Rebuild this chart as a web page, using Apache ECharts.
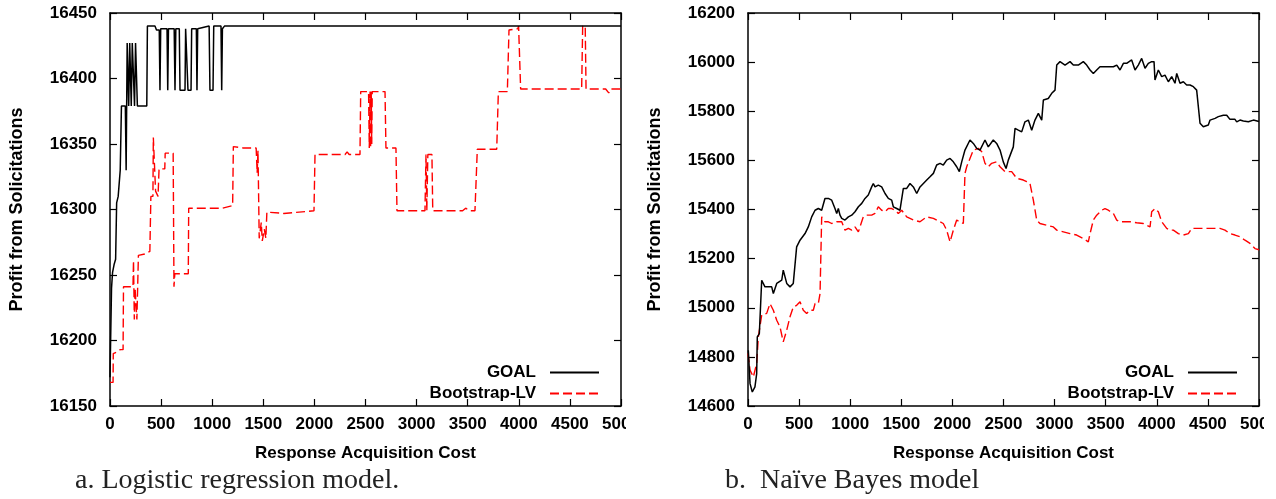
<!DOCTYPE html>
<html>
<head>
<meta charset="utf-8">
<script src="https://cdn.jsdelivr.net/npm/echarts@6/dist/echarts.min.js"></script>
<style>
  body { margin: 0; background: #fff; }
  #chartA { position: absolute; left: 0; top: 0; width: 626px; height: 499px; }
  #chartB { position: absolute; left: 640px; top: 0; width: 624px; height: 499px; }
</style>
</head>
<body>
<div id="chartA"></div>
<div id="chartB"></div>
<script>
// a. logistic regression: [cost, profit]
const goalA = [
  [0, 16172], [15, 16240], [25, 16252], [40, 16258], [55, 16262], [65, 16305], [80, 16310],
  [100, 16330], [112, 16379], [150, 16379], [158, 16330], [168, 16427], [180, 16427],
  [183, 16379], [190, 16379], [193, 16427], [205, 16427], [208, 16379], [215, 16379],
  [218, 16427], [235, 16427], [240, 16379], [245, 16379], [250, 16427], [262, 16427],
  [268, 16379], [360, 16379], [366, 16440], [440, 16440], [455, 16437], [482, 16437],
  [489, 16391], [496, 16438], [558, 16438], [565, 16391], [572, 16438], [628, 16438],
  [636, 16391], [644, 16438], [678, 16438], [685, 16391], [734, 16391], [740, 16438],
  [756, 16438], [763, 16391], [793, 16391], [799, 16438], [845, 16438], [851, 16391],
  [858, 16438], [970, 16440], [978, 16391], [1008, 16391], [1015, 16440], [1086, 16440],
  [1093, 16391], [1100, 16438], [1120, 16440], [5000, 16440]
]
const bootA = [
  [0, 16168], [30, 16168], [32, 16190], [60, 16191], [100, 16193], [128, 16193], [132, 16241],
  [225, 16241], [230, 16261], [238, 16216], [245, 16240], [258, 16240], [263, 16216],
  [272, 16216], [278, 16265], [340, 16266], [390, 16268], [400, 16310], [420, 16310],
  [424, 16355], [438, 16355], [446, 16314], [470, 16310], [480, 16331], [536, 16331],
  [540, 16343], [618, 16343], [626, 16241], [634, 16251], [766, 16251], [770, 16301],
  [1100, 16301], [1200, 16303], [1207, 16348], [1300, 16347], [1430, 16347], [1440, 16328],
  [1448, 16345], [1460, 16278], [1480, 16290], [1490, 16276], [1510, 16285], [1525, 16278],
  [1535, 16298], [1700, 16297], [1996, 16299], [2006, 16342], [2300, 16342], [2320, 16344],
  [2340, 16342], [2446, 16342], [2453, 16390], [2530, 16390], [2537, 16347], [2545, 16390],
  [2550, 16347], [2556, 16390], [2561, 16350], [2566, 16390], [2691, 16390], [2700, 16347],
  [2798, 16347], [2808, 16299], [3082, 16299], [3092, 16342], [3100, 16299], [3110, 16342],
  [3150, 16342], [3158, 16299], [3450, 16299], [3480, 16301], [3520, 16299], [3571, 16299],
  [3594, 16346], [3784, 16346], [3800, 16390], [3888, 16390], [3904, 16437], [3990, 16438],
  [3998, 16440], [4018, 16392], [4615, 16392], [4625, 16440], [4650, 16440], [4658, 16392],
  [4850, 16392], [4880, 16389], [4900, 16392], [5000, 16392]
]

// b. naive bayes
const goalB = [
  [3, 14827], [20, 14691], [42, 14657], [68, 14678], [85, 14732], [91, 14881], [111, 14895],
  [134, 15112], [166, 15085], [232, 15085], [248, 15058], [281, 15099], [330, 15112],
  [345, 15153], [379, 15099], [411, 15085], [443, 15099], [476, 15248], [509, 15275],
  [558, 15302], [590, 15329], [623, 15370], [656, 15397], [688, 15404], [721, 15397],
  [753, 15445], [786, 15445], [819, 15438], [851, 15404], [868, 15384], [884, 15404],
  [900, 15377], [917, 15364], [949, 15357], [982, 15370], [1015, 15377], [1047, 15391],
  [1080, 15411], [1113, 15425], [1145, 15445], [1177, 15459], [1210, 15492], [1226, 15506],
  [1243, 15492], [1275, 15499], [1308, 15492], [1341, 15465], [1373, 15445], [1406, 15438],
  [1422, 15411], [1455, 15404], [1487, 15397], [1504, 15391], [1520, 15486], [1553, 15486],
  [1585, 15506], [1618, 15492], [1651, 15465], [1683, 15492], [1716, 15506], [1749, 15520],
  [1781, 15533], [1814, 15547], [1846, 15581], [1879, 15588], [1911, 15581], [1944, 15601],
  [1977, 15608], [2009, 15594], [2042, 15574], [2068, 15554], [2091, 15594], [2123, 15642],
  [2172, 15683], [2205, 15669], [2238, 15649], [2270, 15642], [2319, 15683], [2351, 15655],
  [2400, 15683], [2433, 15669], [2466, 15642], [2498, 15594], [2525, 15567], [2547, 15601],
  [2596, 15655], [2613, 15730], [2645, 15723], [2678, 15716], [2710, 15757], [2743, 15764],
  [2776, 15723], [2808, 15764], [2841, 15791], [2874, 15764], [2890, 15846], [2938, 15852],
  [2972, 15873], [3004, 15886], [3021, 15988], [3053, 16002], [3102, 15988], [3151, 16002],
  [3183, 15988], [3232, 15988], [3281, 16002], [3314, 15988], [3347, 15968], [3379, 15954],
  [3412, 15968], [3444, 15981], [3510, 15981], [3575, 15981], [3608, 15988], [3640, 15968],
  [3673, 15995], [3705, 15995], [3754, 16009], [3787, 15968], [3819, 15988], [3852, 16015],
  [3885, 15975], [3917, 15995], [3950, 16002], [3973, 16002], [3982, 15927], [4015, 15968],
  [4048, 15941], [4080, 15947], [4113, 15920], [4146, 15941], [4178, 15914], [4195, 15954],
  [4227, 15914], [4260, 15920], [4292, 15907], [4325, 15907], [4358, 15900], [4390, 15886],
  [4406, 15880], [4423, 15751], [4455, 15737], [4504, 15744], [4521, 15764], [4570, 15771],
  [4602, 15778], [4651, 15784], [4684, 15784], [4716, 15767], [4765, 15767], [4782, 15757],
  [4814, 15764], [4847, 15760], [4896, 15757], [4945, 15764], [5000, 15758]
]
const bootB = [
  [0, 14814], [20, 14746], [52, 14718], [85, 14773], [101, 14881], [134, 14970], [150, 14963],
  [183, 14977], [215, 15017], [248, 14990], [281, 14949], [313, 14922], [345, 14861],
  [379, 14909], [411, 14963], [443, 15003], [476, 15010], [509, 15024], [541, 14990],
  [574, 14977], [607, 14990], [639, 14990], [656, 15017], [688, 15017], [705, 15058],
  [721, 15370], [753, 15350], [786, 15350], [819, 15343], [868, 15350], [917, 15350],
  [949, 15316], [982, 15323], [1015, 15316], [1047, 15329], [1080, 15309], [1096, 15302],
  [1128, 15370], [1161, 15377], [1210, 15377], [1243, 15384], [1275, 15411], [1308, 15397],
  [1341, 15391], [1373, 15404], [1406, 15404], [1438, 15397], [1471, 15384], [1504, 15397],
  [1553, 15370], [1618, 15357], [1683, 15350], [1749, 15370], [1814, 15364], [1879, 15350],
  [1911, 15343], [1944, 15316], [1977, 15268], [2009, 15316], [2042, 15357], [2074, 15350],
  [2107, 15343], [2123, 15547], [2140, 15574], [2172, 15608], [2205, 15642], [2254, 15649],
  [2287, 15635], [2319, 15588], [2351, 15574], [2384, 15588], [2433, 15594], [2466, 15574],
  [2515, 15554], [2580, 15554], [2629, 15527], [2694, 15520], [2727, 15513], [2759, 15506],
  [2792, 15438], [2825, 15357], [2857, 15343], [2923, 15336], [2988, 15329], [3021, 15316],
  [3086, 15309], [3151, 15302], [3216, 15296], [3281, 15282], [3330, 15268], [3347, 15302],
  [3379, 15357], [3412, 15377], [3461, 15397], [3493, 15404], [3526, 15397], [3575, 15384],
  [3608, 15357], [3640, 15350], [3738, 15350], [3803, 15346], [3868, 15343], [3901, 15336],
  [3934, 15329], [3950, 15391], [3982, 15404], [4015, 15391], [4048, 15350], [4097, 15323],
  [4129, 15316], [4162, 15316], [4211, 15302], [4260, 15296], [4309, 15302], [4341, 15323],
  [4423, 15323], [4553, 15323], [4618, 15323], [4667, 15316], [4716, 15302], [4765, 15296],
  [4814, 15289], [4863, 15275], [4912, 15262], [4961, 15241], [5000, 15236]
]

const seriesNames = ['GOAL', 'Bootstrap-LV']
const captionA = 'a. Logistic regression model.'
const captionB = 'b.  Naïve Bayes model'

const sans = 'Liberation Sans, Arial, sans-serif'
const labelFont = { fontFamily: sans, fontSize: 17, fontWeight: 'bold', color: '#000' }

function axisBase(pos, min, max, step, showLabel) {
  return {
    type: 'value',
    position: pos,
    min: min,
    max: max,
    interval: step,
    axisLine: { show: true, onZero: false, lineStyle: { color: '#000', width: 1.5 } },
    axisTick: { show: true, inside: true, length: 7, lineStyle: { color: '#000', width: 1.2 } },
    axisLabel: Object.assign({
      show: showLabel, margin: 13, showMinLabel: true, showMaxLabel: true,
      formatter: v => String(v)
    }, labelFont),
    splitLine: { show: false }
  }
}

function makeOption(cfg) {
  const xBottom = axisBase('bottom', 0, 5000, 500, true)
  xBottom.axisLabel.margin = 10
  xBottom.name = 'Response Acquisition Cost'
  xBottom.nameLocation = 'middle'
  xBottom.nameGap = 39
  xBottom.nameTextStyle = labelFont
  const yLeft = axisBase('left', cfg.yMin, cfg.yMax, cfg.yStep, true)
  yLeft.name = 'Profit from Solicitations'
  yLeft.nameLocation = 'middle'
  yLeft.nameGap = 84
  yLeft.nameTextStyle = Object.assign({}, labelFont, { fontSize: 18 })

  return {
    animation: false,
    backgroundColor: '#fff',
    title: {
      text: cfg.caption,
      left: cfg.captionLeft,
      top: 467,
      padding: 0,
      textStyle: { fontFamily: 'Liberation Serif, serif', fontSize: 28, fontWeight: 'normal', color: '#222' }
    },
    grid: {
      left: cfg.gridLeft, top: 13, width: 511, height: 393,
      outerBoundsMode: 'none', containLabel: false
    },
    legend: {
      orient: 'vertical',
      right: 26,
      top: 364,
      padding: 0,
      align: 'right',
      itemWidth: 49,
      itemHeight: 14,
      itemGap: 4,
      itemStyle: { color: 'transparent', borderWidth: 0, opacity: 0 },
      textStyle: Object.assign({ padding: [0, 9, 0, 0] }, labelFont),
      data: seriesNames
    },
    xAxis: [xBottom, axisBase('top', 0, 5000, 500, false)],
    yAxis: [yLeft, axisBase('right', cfg.yMin, cfg.yMax, cfg.yStep, false)],
    series: [
      {
        name: seriesNames[0], type: 'line', data: cfg.goal, showSymbol: false, symbol: 'none',
        lineStyle: { color: '#000', width: 1.5 }, itemStyle: { color: '#000' }, z: 3
      },
      {
        name: seriesNames[1], type: 'line', data: cfg.boot, showSymbol: false, symbol: 'none',
        lineStyle: { color: '#ff0000', width: 1.4, type: [9, 4] }, itemStyle: { color: '#ff0000' }, z: 2
      }
    ]
  }
}

const chartA = echarts.init(document.getElementById('chartA'))
chartA.setOption(makeOption({
  goal: goalA, boot: bootA, yMin: 16150, yMax: 16450, yStep: 50,
  caption: captionA, captionLeft: 75, gridLeft: 110
}))

const chartB = echarts.init(document.getElementById('chartB'))
chartB.setOption(makeOption({
  goal: goalB, boot: bootB, yMin: 14600, yMax: 16200, yStep: 200,
  caption: captionB, captionLeft: 85, gridLeft: 108
}))
</script>
</body>
</html>
